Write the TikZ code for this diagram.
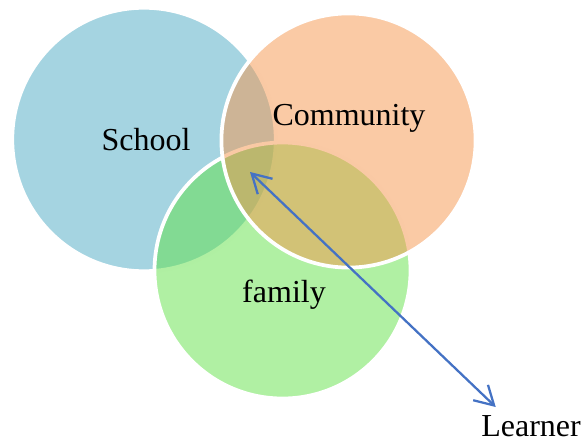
\documentclass[tikz,border=0pt]{standalone}
\usepackage{fontspec}
\setmainfont{Liberation Serif}
\usetikzlibrary{arrows.meta}

\definecolor{schoolBlue}{RGB}{75,169,195}
\definecolor{familyGreen}{RGB}{97,225,71}
\definecolor{communityOrange}{RGB}{245,149,75}
\definecolor{learnerArrow}{RGB}{68,114,196}

\begin{document}
\begin{tikzpicture}[%
    x=0.375pt,
    y=-0.375pt,
    sphere/.style={%
        circle,
        draw=white,
        line width=1.4pt,
        fill opacity=0.5,
        inner sep=0pt
    },
    sphereText/.style={%
        anchor=base,
        inner sep=0pt,
        font=\fontsize{12}{14}\selectfont
    },
    >={Straight Barb[length=7pt,width=8pt]}
]
\useasboundingbox (0,0) rectangle (582,442);

% Circles
\node[sphere, fill=schoolBlue, minimum size=98.8pt] (school) at (144,139.5) {};
\node[sphere, fill=familyGreen, minimum size=96pt] (family) at (282.5,270.5) {};
\node[sphere, fill=communityOrange, minimum size=95.3pt] (community) at (348.5,140.5) {};

% Labels
\node[sphereText] (schoolText) at (146,150.5) {School};
\node[sphereText] (communityText) at (349,125.5) {Community};
\node[sphereText] (familyText) at (284,302) {family};
\node[sphereText] (learner) at (531,436.5) {Learner};

% Arrow
\coordinate (core) at (250,172);
\draw[<->, learnerArrow, line width=0.85pt] (core) -- ([shift={(15,-8)}]learner.north west);

\end{tikzpicture}
\end{document}
